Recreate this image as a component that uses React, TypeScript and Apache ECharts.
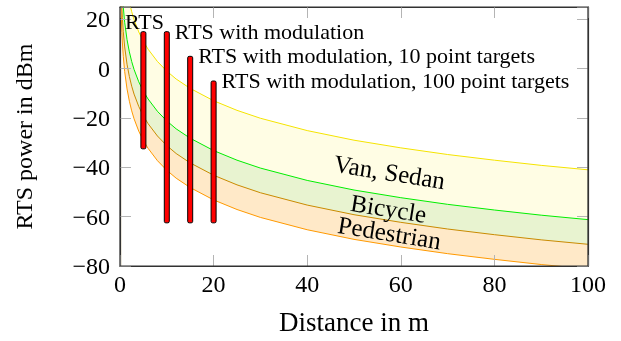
import React, { useEffect, useRef } from "react";
import * as echarts from "echarts";

// Distance samples (m)
const distances = [0.2, 0.3, 0.4, 0.5, 0.7, 1, 1.5, 2, 2.5, 3, 4, 5, 6, 8, 10, 12, 15, 20, 25, 30, 40, 50, 60, 70, 80, 90, 100];
// Upper bound (Van, Sedan)
const vanSedan = [67.0, 59.9, 54.9, 51.0, 45.2, 39.0, 32.0, 27.0, 23.1, 19.9, 14.9, 11.0, 7.9, 2.9, -1.0, -4.2, -8.0, -13.0, -16.9, -20.1, -25.1, -29.0, -32.1, -34.8, -37.1, -39.2, -41.0];
const vanSedanLow = [46.8, 39.7, 34.7, 30.8, 25.0, 18.8, 11.8, 6.8, 2.9, -0.3, -5.3, -9.2, -12.3, -17.3, -21.2, -24.4, -28.2, -33.2, -37.1, -40.3, -45.3, -49.2, -52.3, -55.0, -57.3, -59.4, -61.2];
const bicycleLow = [36.8, 29.7, 24.7, 20.8, 15.0, 8.8, 1.8, -3.2, -7.1, -10.3, -15.3, -19.2, -22.3, -27.3, -31.2, -34.4, -38.2, -43.2, -47.1, -50.3, -55.3, -59.2, -62.3, -65.0, -67.3, -69.4, -71.2];
const pedestrianLow = [26.8, 19.7, 14.7, 10.8, 5.0, -1.2, -8.2, -13.2, -17.1, -20.3, -25.3, -29.2, -32.3, -37.3, -41.2, -44.4, -48.2, -53.2, -57.1, -60.3, -65.3, -69.2, -72.3, -75.0, -77.3, -79.4, -81.2];

// RTS power ranges
const rtsDistances = [5, 10, 15, 20];
const rtsMin = [-32.5, -62.5, -62.5, -62.5];
const rtsMax = [15, 15, 5, -5];
const rtsLabels = [
  "RTS",
  "RTS with modulation",
  "RTS with modulation, 10 point targets",
  "RTS with modulation, 100 point targets",
];

// Band labels
const bandNames = ["Van, Sedan", "Bicycle", "Pedestrian"];
const bandLabelX = [57.6, 57.4, 57.6];
const bandLabelY = [-41.9, -56.7, -66.5];

const xTicks = { min: 0, max: 100, interval: 20 };
const yTicks = { min: -80, max: 25, interval: 20 };

const FONT = '"Liberation Serif", "Times New Roman", serif';
const GRID = { left: 120, right: 33, top: 7, bottom: 75 };
const W = 621;
const H = 341;

export default function App() {
  const ref = useRef<HTMLDivElement>(null);
  useEffect(() => {
    if (!ref.current) return;
    const chart = echarts.init(ref.current, null, { renderer: "svg" });
    const tickStyle = { inside: true, length: 11, lineStyle: { color: "#b4b4b4", width: 1 } };
    const lineAxis = () => ({ show: true, onZero: false, lineStyle: { color: "#333", width: 1.2 } });
    const fmtY = (v: number) => (v % 20 === 0 ? String(v).replace("-", "\u2212") : "");
    const mk = (data: number[], color: string, fill: string, z: number) => ({
      type: "line",
      data: distances.map((d, i) => [d, data[i]]),
      showSymbol: false,
      symbol: "none",
      clip: true,
      z,
      lineStyle: { color, width: 1 },
      areaStyle: { color: fill, opacity: 1, origin: "start" },
    });
    chart.setOption({
      animation: false,
      grid: GRID,
      graphic: [
        {
          type: "rect",
          z: 100,
          silent: true,
          shape: {
            x: GRID.left,
            y: GRID.top,
            width: W - GRID.left - GRID.right,
            height: H - GRID.top - GRID.bottom,
          },
          style: { fill: "none", stroke: "#333", lineWidth: 1.2 },
        },
      ],
      xAxis: [
        {
          type: "value",
          ...xTicks,
          position: "bottom",
          z: 5,
          axisLine: lineAxis(),
          axisTick: tickStyle,
          splitLine: { show: false },
          axisLabel: { fontSize: 24, fontFamily: FONT, color: "#000", margin: 6 },
          name: "Distance in m",
          nameLocation: "middle",
          nameGap: 42,
          nameTextStyle: { fontSize: 27, fontFamily: FONT, color: "#000" },
        },
        {
          type: "value",
          ...xTicks,
          position: "top",
          z: 5,
          axisLine: lineAxis(),
          axisTick: tickStyle,
          splitLine: { show: false },
          axisLabel: { show: false },
        },
      ],
      yAxis: [
        {
          type: "value",
          ...yTicks,
          position: "left",
          z: 5,
          axisLine: lineAxis(),
          axisTick: tickStyle,
          splitLine: { show: false },
          axisLabel: { fontSize: 24, fontFamily: FONT, color: "#000", margin: 10, formatter: fmtY },
          name: "RTS power in dBm",
          nameLocation: "middle",
          nameGap: 84,
          nameTextStyle: { fontSize: 24, fontFamily: FONT, color: "#000" },
        },
        {
          type: "value",
          ...yTicks,
          position: "right",
          z: 5,
          axisLine: lineAxis(),
          axisTick: tickStyle,
          splitLine: { show: false },
          axisLabel: { show: false },
        },
      ],
      series: [
        mk(vanSedan, "#f5e400", "#fffde4", 1),
        mk(vanSedanLow, "#00ee00", "#e8f3d0", 2),
        mk(bicycleLow, "#c98a00", "#ffe9c8", 3),
        mk(pedestrianLow, "#ff9900", "#ffffff", 4),
        {
          type: "custom",
          z: 6,
          data: rtsDistances.map((d, i) => [d, rtsMin[i], rtsMax[i]]),
          encode: { x: 0, y: [1, 2] },
          renderItem: (params: any, api: any) => {
            const x = api.value(0);
            const top = api.coord([x, api.value(2)]);
            const bot = api.coord([x, api.value(1)]);
            const idx = params.dataIndex;
            const label = rtsLabels[idx];
            const text =
              idx === 0
                ? {
                    type: "text",
                    x: top[0] + 1,
                    y: top[1] - 10,
                    style: { text: label, font: `22px ${FONT}`, fill: "#000", align: "center", verticalAlign: "middle" },
                  }
                : {
                    type: "text",
                    x: top[0] + 8,
                    y: top[1] - 0.5,
                    style: { text: label, font: `22px ${FONT}`, fill: "#000", align: "left", verticalAlign: "middle" },
                  };
            return {
              type: "group",
              children: [
                {
                  type: "rect",
                  shape: { x: top[0] - 2.5, y: top[1], width: 5, height: bot[1] - top[1], r: 1.5 },
                  style: { fill: "#ff0000", stroke: "#000", lineWidth: 1 },
                },
                text,
              ],
            };
          },
        },
        {
          type: "custom",
          z: 6,
          data: bandNames.map((n, i) => [bandLabelX[i], bandLabelY[i]]),
          encode: { x: 0, y: 1 },
          renderItem: (params: any, api: any) => {
            const p = api.coord([api.value(0), api.value(1)]);
            return {
              type: "text",
              x: p[0],
              y: p[1],
              rotation: -0.16,
              style: {
                text: bandNames[params.dataIndex],
                font: `25px ${FONT}`,
                fill: "#000",
                align: "center",
                verticalAlign: "middle",
              },
            };
          },
        },
      ],
    });
    return () => chart.dispose();
  }, []);
  return <div ref={ref} style={{ position: "fixed", left: 0, top: 0, width: W, height: H }} />;
}
